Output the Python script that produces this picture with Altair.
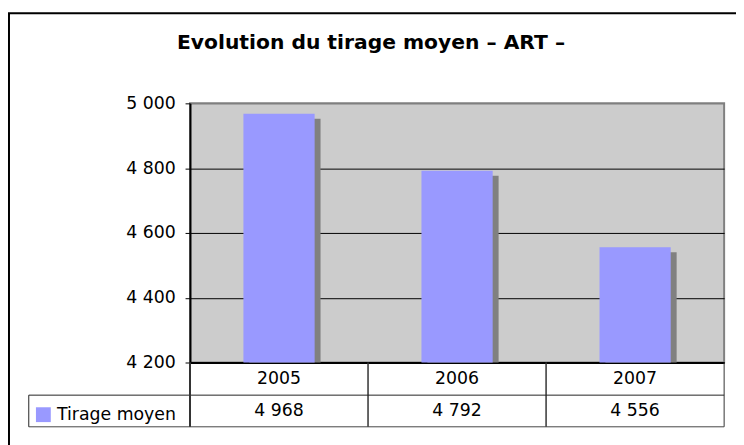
import altair as alt
import pandas as pd

# ---- data ----
years = ["2005", "2006", "2007"]
values = [4968, 4792, 4556]
series_name = "Tirage moyen"
title_text = "Evolution du tirage moyen – ART –"
y_ticks = [4200, 4400, 4600, 4800, 5000]
y_min, y_max = 4200, 5000

df = pd.DataFrame({
    "year": years,
    "value": values,
    "series": [series_name] * len(years),
    "label": [f"{v:,}".replace(",", " ") for v in values],
    "base": [y_min] * len(years),
})
one = pd.DataFrame({"k": [0]})

FONT = "DejaVu Sans"
W, H = 540, 262
FS = 17.5

xscale = alt.Scale(domain=years, paddingInner=0.6, paddingOuter=0.3)
yscale = alt.Scale(domain=[y_min, y_max], zero=False, nice=False)

x_axis = alt.Axis(title=None, orient="bottom", ticks=False, domain=True,
                  domainColor="black", domainWidth=2, labelFont=FONT,
                  labelFontSize=FS, labelColor="black", labelPadding=7,
                  labelAngle=0, grid=False)
y_axis = alt.Axis(title=None, values=y_ticks, tickSize=5, tickColor="black",
                  domainColor="black", domainWidth=2, labelFont=FONT,
                  labelFontSize=FS, labelColor="black", labelPadding=10,
                  labelExpr="replace(format(datum.value, ','), ',', ' ')",
                  grid=True,
                  gridColor=alt.condition("datum.value == 5000",
                                          alt.value("#808080"),
                                          alt.value("black")),
                  gridWidth=1)

X = alt.X("year:N", scale=xscale, axis=x_axis, sort=years)
Y = alt.Y("value:Q", scale=yscale, axis=y_axis)

base = alt.Chart(df)

shadow = base.mark_bar(color="#808080", xOffset=6, yOffset=5, y2Offset=0).encode(
    x=X, y=Y, y2="base:Q",
)

bars = base.mark_bar().encode(
    x=X, y=Y, y2="base:Q",
    color=alt.Color("series:N", scale=alt.Scale(range=["#9999FF"]),
                    legend=alt.Legend(title=None, orient="none",
                                      legendX=-157, legendY=306,
                                      symbolType="square", symbolSize=225,
                                      symbolStrokeWidth=0, padding=0,
                                      labelFont=FONT, labelFontSize=FS,
                                      labelColor="black", labelOffset=5)),
)

# data-table row with values
vals = base.mark_text(font=FONT, fontSize=FS, color="black", baseline="middle").encode(
    x=X, y=alt.value(311), text="label:N",
)

# table cell dividers (left and right of each category)
div_l = base.mark_rule(color="#333333", strokeWidth=1, xOffset=-90).encode(
    x=X, y=alt.value(262), y2=alt.value(327),
)
div_r = base.mark_rule(color="#333333", strokeWidth=1, xOffset=90).encode(
    x=X, y=alt.value(262), y2=alt.value(327),
)

oc = alt.Chart(one)
h_mid = oc.mark_rule(color="#222222", strokeWidth=1).encode(
    x=alt.value(-163), x2=alt.value(540), y=alt.value(295))
h_bot = oc.mark_rule(color="#444444", strokeWidth=1).encode(
    x=alt.value(-163), x2=alt.value(540), y=alt.value(327))
v_leg = oc.mark_rule(color="#222222", strokeWidth=1).encode(
    x=alt.value(-163), y=alt.value(295), y2=alt.value(327))
v_axis = oc.mark_rule(color="#333333", strokeWidth=2).encode(
    x=alt.value(0), y=alt.value(262), y2=alt.value(327))

frame = oc.mark_rect(filled=False, stroke="black", strokeWidth=2).encode(
    x=alt.value(-183), x2=alt.value(600), y=alt.value(-91), y2=alt.value(400))

title = oc.mark_text(font=FONT, fontSize=20.5, fontWeight="bold", color="black",
                     align="center", baseline="alphabetic").encode(
    x=alt.value(183), y=alt.value(-55), text=alt.value(title_text))

chart = alt.layer(
    shadow, bars, vals, div_l, div_r, h_mid, h_bot, v_leg, v_axis, frame, title
).properties(
    width=W, height=H,
    padding={"left": 184, "top": 94, "right": 12, "bottom": 81},
    autosize=alt.AutoSizeParams(type="none"),
).configure_view(
    fill="#CCCCCC", stroke="#808080", strokeWidth=2
)

chart.save("out.html", embed_options={"renderer": "svg", "actions": False})
